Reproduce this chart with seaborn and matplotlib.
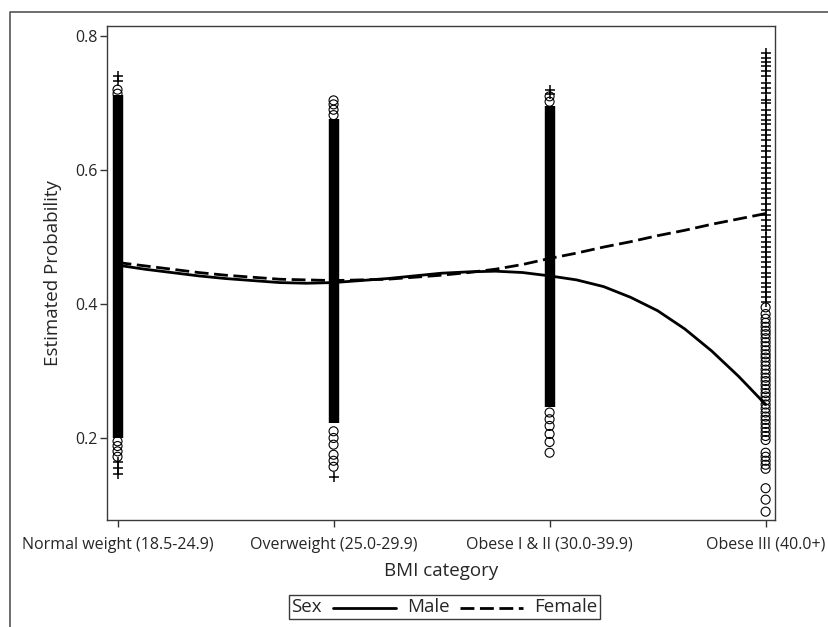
import numpy as np
import pandas as pd
import seaborn as sns
import matplotlib.pyplot as plt
from matplotlib.lines import Line2D
from matplotlib.offsetbox import AnchoredOffsetbox, HPacker, TextArea, DrawingArea

categories = ["Normal weight (18.5-24.9)", "Overweight (25.0-29.9)",
              "Obese I & II (30.0-39.9)", "Obese III (40.0+)"]
sexes = ["Male", "Female"]

# fitted curves, read at eighth steps along the category axis
curve_x = [0, 0.125, 0.25, 0.375, 0.5, 0.625, 0.75, 0.875, 1.0, 1.125, 1.25, 1.375, 1.5,
           1.625, 1.75, 1.875, 2.0, 2.125, 2.25, 2.375, 2.5, 2.625, 2.75, 2.875, 3.0]
male_prob = [0.458, 0.452, 0.447, 0.442, 0.438, 0.435, 0.432, 0.431, 0.432, 0.435, 0.438,
             0.442, 0.446, 0.448, 0.449, 0.447, 0.442, 0.436, 0.426, 0.410, 0.390, 0.363,
             0.330, 0.292, 0.250]
female_prob = [0.462, 0.457, 0.452, 0.447, 0.443, 0.440, 0.437, 0.436, 0.435, 0.436, 0.437,
               0.440, 0.443, 0.447, 0.452, 0.459, 0.468, 0.476, 0.485, 0.493, 0.502, 0.510,
               0.519, 0.527, 0.535]

# dense part of the first three columns (solid band of markers)
band_lo = [0.200, 0.222, 0.246]
band_hi = [0.712, 0.676, 0.696]

# individual points outside the bands
male_pts = {
    0: [0.720, 0.714, 0.195, 0.188, 0.180, 0.172],
    1: [0.704, 0.698, 0.690, 0.682, 0.210, 0.200, 0.190, 0.175, 0.166, 0.157],
    2: [0.710, 0.702, 0.238, 0.228, 0.218, 0.206, 0.194, 0.178],
    3: [0.395, 0.385, 0.378, 0.372, 0.366, 0.360, 0.355, 0.349, 0.343, 0.337, 0.331,
        0.325, 0.320, 0.314, 0.308, 0.302, 0.296, 0.290, 0.285, 0.279, 0.273, 0.267,
        0.262, 0.256, 0.250, 0.244, 0.238, 0.232, 0.227, 0.221, 0.215, 0.209, 0.203,
        0.197, 0.178, 0.172, 0.166, 0.160, 0.154, 0.125, 0.108, 0.090],
}
female_pts = {
    0: [0.740, 0.733, 0.164, 0.155, 0.146],
    1: [0.142],
    2: [0.720, 0.713],
    3: [0.775, 0.768, 0.762, 0.755, 0.748, 0.740, 0.730, 0.722, 0.715, 0.705, 0.700,
        0.690, 0.682, 0.675, 0.668, 0.660, 0.652, 0.645, 0.636, 0.628, 0.620, 0.610,
        0.603, 0.595, 0.588, 0.580, 0.572, 0.566, 0.558, 0.550, 0.541, 0.533, 0.525,
        0.517, 0.510, 0.500, 0.492, 0.485, 0.478, 0.470, 0.462, 0.455, 0.447, 0.440,
        0.432, 0.425, 0.418, 0.410, 0.403],
}

curves = pd.DataFrame({
    "x": curve_x * 2,
    "prob": male_prob + female_prob,
    "Sex": ["Male"] * len(curve_x) + ["Female"] * len(curve_x),
})
male_df = pd.DataFrame([(k, v) for k, vals in male_pts.items() for v in vals], columns=["x", "prob"])
female_df = pd.DataFrame([(k, v) for k, vals in female_pts.items() for v in vals], columns=["x", "prob"])

sns.set_style("white")
plt.rcParams["font.family"] = ["Open Sans", "DejaVu Sans"]

fig = plt.figure(figsize=(8.29, 6.27), dpi=100)
ax = fig.add_axes([0.129, 0.1707, 0.806, 0.7878])

ax.vlines(range(len(band_lo)), band_lo, band_hi, color="black", lw=7.5)
sns.scatterplot(data=male_df, x="x", y="prob", marker="o", s=42, facecolor="none",
                edgecolor="black", linewidth=0.8, ax=ax)
sns.scatterplot(data=female_df, x="x", y="prob", marker="+", s=60, color="black",
                linewidth=1.1, ax=ax)
sns.lineplot(data=curves, x="x", y="prob", style="Sex", style_order=sexes,
             dashes={"Male": "", "Female": (5, 2)}, color="black", lw=2.0,
             legend=False, ax=ax)

ax.set_xlim(-0.049, 3.044)
ax.set_ylim(0.0776, 0.815)
ax.set_xticks(range(len(categories)))
ax.set_xticklabels(categories)
ax.set_yticks([0.2, 0.4, 0.6, 0.8])
ax.set_yticklabels(["0.2", "0.4", "0.6", "0.8"])
ax.tick_params(axis="both", labelsize=11.5, length=5, width=1, color="#333333",
               direction="out", left=True, bottom=True)
ax.tick_params(axis="x", pad=7)
ax.tick_params(axis="y", pad=2)
for sp in ax.spines.values():
    sp.set_color("#3a3a3a")
    sp.set_linewidth(1.0)
ax.set_xlabel("BMI category", fontsize=13.5, labelpad=7)
ax.set_ylabel("Estimated Probability", fontsize=13.5, labelpad=9)


def line_sample(ls):
    da = DrawingArea(45, 10, 0, 0)
    da.add_artist(Line2D([0, 45], [4, 4], color="black", lw=2.0, ls=ls))
    return da


items = [TextArea("Sex", textprops=dict(fontsize=13.5))]
for sex, ls in zip(sexes, ["-", (0, (5, 2))]):
    items += [line_sample(ls), TextArea(sex, textprops=dict(fontsize=13.5))]
box = HPacker(children=items, align="center", pad=0, sep=8)
legend = AnchoredOffsetbox(loc="center", child=box, pad=0.2, borderpad=0, frameon=True,
                           bbox_to_anchor=(0.536, 0.032), bbox_transform=fig.transFigure)
legend.patch.set_edgecolor("#3a3a3a")
legend.patch.set_linewidth(1.0)
fig.add_artist(legend)

# outer frame of the figure (only left and top edges are visible)
fig.add_artist(Line2D([0.012, 0.012, 1.0], [0.0, 0.981, 0.981], transform=fig.transFigure,
                      color="#555555", lw=1.2))

fig.savefig("out.png", dpi=100)
